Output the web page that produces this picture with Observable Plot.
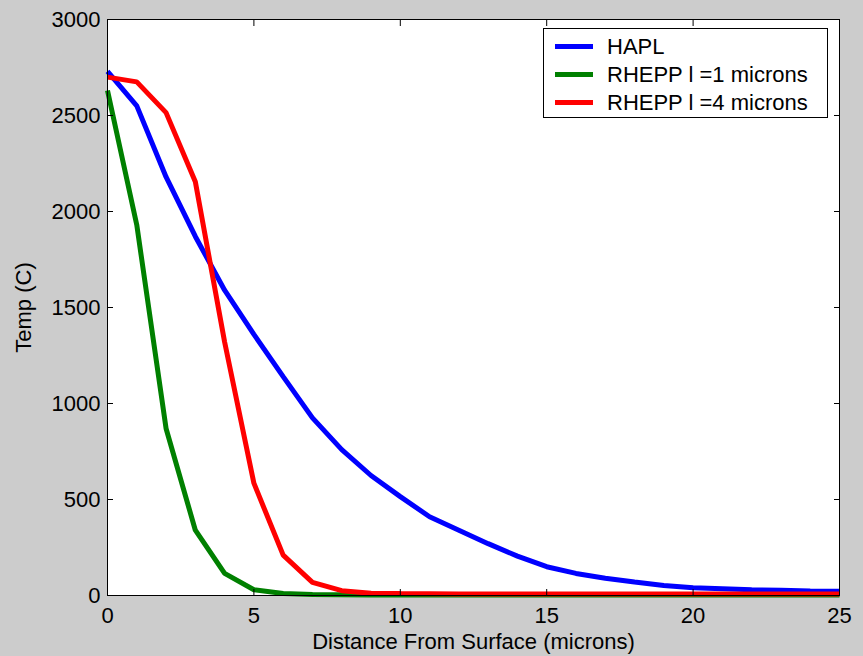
<!DOCTYPE html>
<html>
<head>
<meta charset="utf-8">
<script src="https://cdn.jsdelivr.net/npm/d3@7"></script>
<script src="https://cdn.jsdelivr.net/npm/@observablehq/plot@0.6"></script>
<style>
  html, body { margin: 0; padding: 0; background: #cccccc; }
  #wrap { position: relative; width: 863px; height: 656px; font-family: "Liberation Sans", Arial, sans-serif; }
  #legend { position: absolute; left: 543px; top: 28px; width: 283px; height: 88px; background: white; border: 1px solid black; }
  .row { position: absolute; left: 0; height: 28px; width: 100%; }
  .sw { position: absolute; left: 11px; width: 38px; height: 5px; }
  .lb { position: absolute; left: 63px; font-size: 22px; line-height: 22px; color: black; white-space: pre; }
</style>
</head>
<body>
<div id="wrap"></div>
<script>
const distance = [0,1,2,3,4,5,6,7,8,9,10,11,12,13,14,15,16,17,18,19,20,21,22,23,24,25];
const hapl   = [2730,2550,2180,1870,1590,1360,1140,925,760,625,515,410,340,270,205,150,115,90,70,52,40,35,30,27,24,22];
const rhepp1 = [2630,1930,870,340,115,30,10,5,4,3,3,3,3,3,3,3,3,3,3,3,3,3,3,3,3,3];
const rhepp4 = [2700,2675,2515,2155,1320,585,210,68,25,12,10,9,8,8,8,8,8,8,8,8,8,8,8,8,8,8];
const seriesNames = ["HAPL", "RHEPP l =1 microns", "RHEPP l =4 microns"];
const seriesColors = ["#0000ff", "#008000", "#ff0000"];
const xTicks = [0,5,10,15,20,25];
const yTicks = [0,500,1000,1500,2000,2500,3000];

const values = [hapl, rhepp1, rhepp4];
const rows = [];
values.forEach((arr, s) => arr.forEach((v, i) => rows.push({series: seriesNames[s], x: distance[i], y: v})));

const chart = Plot.plot({
  width: 863,
  height: 656,
  marginLeft: 107,
  marginRight: 24,
  marginTop: 19,
  marginBottom: 61,
  style: {background: "#cccccc", fontFamily: "Liberation Sans, Arial, sans-serif", fontSize: "22px", color: "black"},
  x: {domain: [0, 25]},
  y: {domain: [0, 3000]},
  color: {domain: seriesNames, range: seriesColors},
  marks: [
    Plot.frame({fill: "white", stroke: null}),
    Plot.line(rows, {x: "x", y: "y", z: "series", stroke: "series", strokeWidth: 5, strokeLinejoin: "miter", strokeLinecap: "butt"}),
    Plot.axisX(xTicks, {anchor: "bottom", tickSize: -6, tickPadding: 18, tickFormat: d3.format("d"), label: "Distance From Surface (microns)", labelAnchor: "center", labelArrow: "none", labelOffset: 53}),
    Plot.axisX(xTicks, {anchor: "top", tickSize: -6, tickFormat: () => "", label: null}),
    Plot.axisY(yTicks, {anchor: "left", tickSize: -6, tickPadding: 13, tickFormat: d3.format("d"), label: "Temp (C)", labelAnchor: "center", labelArrow: "none", labelOffset: 92}),
    Plot.axisY(yTicks, {anchor: "right", tickSize: -6, tickFormat: () => "", label: null}),
    Plot.frame({stroke: "black", strokeWidth: 1})
  ]
});

const wrap = document.getElementById("wrap");
wrap.appendChild(chart);

const legend = document.createElement("div");
legend.id = "legend";
seriesNames.forEach((name, i) => {
  const row = document.createElement("div");
  row.className = "row";
  row.style.top = (4 + i * 28) + "px";
  const sw = document.createElement("div");
  sw.className = "sw";
  sw.style.background = seriesColors[i];
  sw.style.top = "11px";
  const lb = document.createElement("div");
  lb.className = "lb";
  lb.style.top = "3px";
  lb.textContent = name;
  row.appendChild(sw);
  row.appendChild(lb);
  legend.appendChild(row);
});
wrap.appendChild(legend);
</script>
</body>
</html>
